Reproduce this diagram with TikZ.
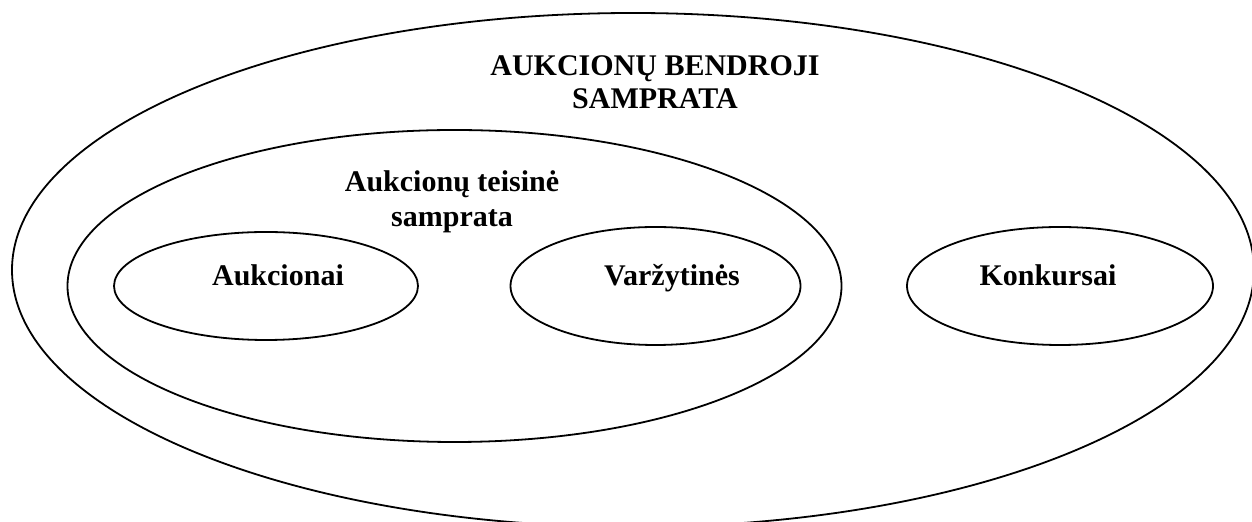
\documentclass[tikz,border=0pt]{standalone}
\usepackage{fontspec}
\setmainfont{Liberation Serif}
\usepackage{xcolor}
\usepackage{tikz}
\usetikzlibrary{shapes.geometric,positioning}
\definecolor{setline}{HTML}{000000}
\tikzset{
  setring/.style={ellipse, draw=setline, line width=0.9pt, inner sep=0pt},
  setlabel/.style={align=center, font=\fontsize{15pt}{16.5pt}\selectfont\bfseries, inner sep=0pt, anchor=base}
}

\begin{document}
\begin{tikzpicture}[x=0.5pt, y=-0.5pt]
  \useasboundingbox (0,0) rectangle (1252,522);
  % rings
  \node[setring, minimum width=621pt, minimum height=257pt] (general) at (633,270) {};
  \node[setring, minimum width=387pt, minimum height=156pt] (legal) at (454.5,286) {};
  \node[setring, minimum width=152pt, minimum height=54pt] (auctions) at (266,286) {};
  \node[setring, minimum width=145pt, minimum height=59pt] (bidding) at (655.5,286) {};
  \node[setring, minimum width=153pt, minimum height=59pt] (tenders) at (1060,286) {};
  % labels (base = last line)
  \node[setlabel] (generaltxt) at (655,109) {AUKCIONŲ BENDROJI\\SAMPRATA};
  \node[setlabel, font=\fontsize{15pt}{17.5pt}\selectfont\bfseries] (legaltxt) at (452,227) {Aukcionų teisinė\\samprata};
  \node[setlabel] (auctionstxt) at (278,286) {Aukcionai};
  \node[setlabel] (biddingtxt) at (672,286) {Varžytinės};
  \node[setlabel] (tenderstxt) at (1048,286) {Konkursai};
\end{tikzpicture}
\end{document}
